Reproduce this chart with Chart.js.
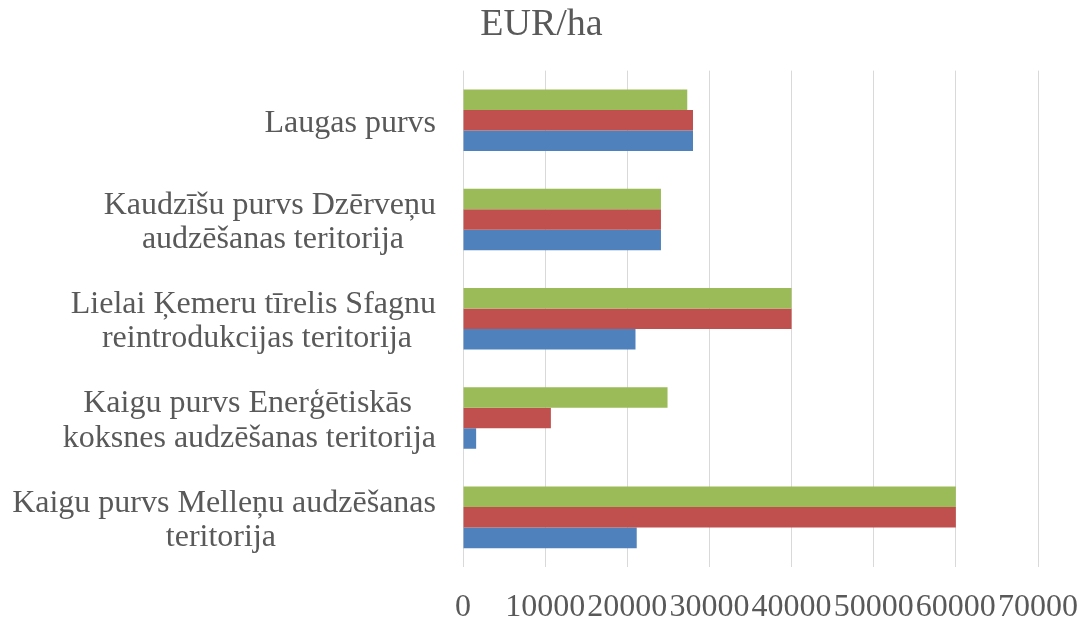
<!DOCTYPE html>
<html>
<head>
<meta charset="utf-8">
<script src="https://cdn.jsdelivr.net/npm/chart.js@4/dist/chart.umd.min.js"></script>
<style>
html,body{margin:0;padding:0;background:#fff;}
#wrap{width:1083px;height:618px;position:relative;}
</style>
</head>
<body>
<div id="wrap"><canvas id="c" width="1083" height="618"></canvas></div>
<script>
const chartTitle = "EUR/ha";
const categories = [
  ["Laugas purvs"],
  ["Kaudzīšu purvs Dzērveņu", "audzēšanas teritorija"],
  ["Lielai Ķemeru tīrelis Sfagnu", "reintrodukcijas teritorija"],
  ["Kaigu purvs Enerģētiskās", "koksnes audzēšanas teritorija"],
  ["Kaigu purvs Melleņu audzēšanas", "teritorija"]
];
const series1 = [28000, 24100, 21000, 1600, 21150];   // blue
const series2 = [28000, 24100, 40000, 10700, 60000];  // red
const series3 = [27300, 24100, 40000, 24900, 60000];  // green
const xTicks = [0, 10000, 20000, 30000, 40000, 50000, 60000, 70000];

const FONT = '"Liberation Serif", "Times New Roman", serif';
const LABEL_SIZE = 32;
const mctx = document.createElement('canvas').getContext('2d');
mctx.font = LABEL_SIZE + 'px ' + FONT;
function centerLines(lines) {
  if (lines.length < 2) return lines;
  const ws = lines.map(l => mctx.measureText(l).width);
  const W = Math.max(...ws);
  const sp = mctx.measureText(' ').width;
  return lines.map((l, i) => l + ' '.repeat(Math.round((W - ws[i]) / 2 / sp)));
}

new Chart(document.getElementById('c'), {
  type: 'bar',
  data: {
    labels: categories,
    datasets: [
      { label: 'Series 3', data: series3, backgroundColor: '#9BBB59' },
      { label: 'Series 2', data: series2, backgroundColor: '#C0504D' },
      { label: 'Series 1', data: series1, backgroundColor: '#4F81BD' }
    ]
  },
  options: {
    indexAxis: 'y',
    responsive: false,
    animation: false,
    layout: { padding: { left: 0, right: 0, top: 0, bottom: 0 } },
    datasets: { bar: { categoryPercentage: 0.62, barPercentage: 1.0 } },
    plugins: {
      legend: { display: false },
      tooltip: { enabled: false },
      title: {
        display: true,
        text: chartTitle,
        color: '#595959',
        font: { family: FONT, size: 38, weight: 'normal' },
        padding: { top: 2, bottom: 23 }
      }
    },
    scales: {
      x: {
        min: 0, max: 70000,
        afterBuildTicks: (s) => { s.ticks = xTicks.map(v => ({ value: v })); },
        afterFit: (s) => { s.height = 51; s.paddingRight = 45; },
        grid: { color: '#D9D9D9', lineWidth: 1, drawTicks: false },
        border: { display: false },
        ticks: {
          color: '#595959',
          font: { family: FONT, size: 32 },
          padding: 21,
          maxRotation: 0,
          autoSkip: false,
          callback: (v) => String(v)
        }
      },
      y: {
        grid: { display: false, drawTicks: false },
        border: { display: false },
        afterFit: (s) => { s.width = 463; },
        ticks: {
          color: '#595959',
          font: { family: FONT, size: LABEL_SIZE, lineHeight: 1.07 },
          padding: 27,
          labelOffset: 3,
          autoSkip: false,
          callback: function (v, i) { return centerLines(categories[i]); }
        }
      }
    }
  }
});
</script>
</body>
</html>
